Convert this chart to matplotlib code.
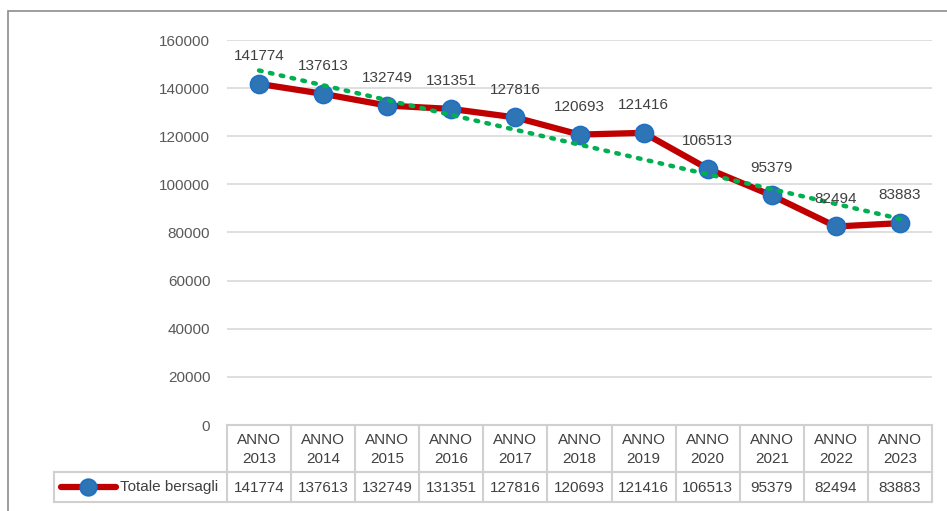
import numpy as np
import matplotlib
matplotlib.use('Agg')
import matplotlib.pyplot as plt
from matplotlib.patches import Rectangle
from matplotlib.lines import Line2D

plt.rcParams['font.family'] = ['Liberation Sans', 'DejaVu Sans']

# Data
years = ['2013', '2014', '2015', '2016', '2017', '2018', '2019', '2020', '2021', '2022', '2023']
totals = [141774, 137613, 132749, 131351, 127816, 120693, 121416, 106513, 95379, 82494, 83883]
series_name = 'Totale bersagli'

W, H = 947, 511
fig = plt.figure(figsize=(W / 100, H / 100), dpi=100)

# chart area border (runs off the right and bottom edges)
fig.patches.append(Rectangle((8 / W, -0.1), 1.1, 1 - 11 / H + 0.1, transform=fig.transFigure,
                             fill=False, edgecolor='#8c8c8c', linewidth=1.2))

left, right, top, bottom = 227, 932, 40, 425
ax = fig.add_axes([left / W, 1 - bottom / H, (right - left) / W, (bottom - top) / H])

x = np.arange(len(years))
ax.set_xlim(-0.5, len(years) - 0.5)
ax.set_ylim(0, 160000)
ax.set_yticks(np.arange(0, 160001, 20000))
ax.yaxis.grid(True, color='#d9d9d9', linewidth=1.2)
ax.set_axisbelow(True)
for s in ax.spines.values():
    s.set_visible(False)
ax.tick_params(axis='y', length=0, pad=12, labelsize=11, labelcolor='#595959')
ax.set_xticks([])

# main series
ax.plot(x, totals, color='#c00000', linewidth=4.5, solid_joinstyle='round', zorder=3,
        marker='o', markersize=13, markerfacecolor='#2e75b6', markeredgecolor='#1f6fc5',
        markeredgewidth=1.2)

# linear trendline
coef = np.polyfit(x, totals, 1)
ax.plot(x, np.polyval(coef, x), linestyle=(0, (0.6, 1.9)), color='#00b050',
        linewidth=3.2, dash_capstyle='round', zorder=4)

# data labels
for xi, v in zip(x, totals):
    ax.annotate(str(v), (xi, v), xytext=(0, 15), textcoords='offset points',
                ha='center', va='bottom', fontsize=11, color='#404040', zorder=5)

# data table below the plot
tr = ax.get_xaxis_transform()
ph = bottom - top
def yf(py):
    return (bottom - py) / ph

grid_c = '#d0d0d0'
row1, row2, row3 = 425, 472, 502
tbl_left_px = 54
xl = -0.5 - (left - tbl_left_px) / 64.1

def hline(x0, x1, py):
    ax.add_line(Line2D([x0, x1], [yf(py), yf(py)], transform=tr, color=grid_c,
                       linewidth=1.5, clip_on=False))

def vline(xv, py0, py1):
    ax.add_line(Line2D([xv, xv], [yf(py0), yf(py1)], transform=tr, color=grid_c,
                       linewidth=1.5, clip_on=False))

hline(-0.5, len(years) - 0.5, row1)
hline(xl, len(years) - 0.5, row2)
hline(xl, len(years) - 0.5, row3)
vline(xl, row2, row3)
for i in range(len(years) + 1):
    vline(i - 0.5, row1, row3)

for xi, yr, v in zip(x, years, totals):
    ax.text(xi, yf((row1 + row2) / 2 + 1), 'ANNO\n' + yr, transform=tr, ha='center',
            va='center', fontsize=11, color='#404040', linespacing=1.4)
    ax.text(xi, yf((row2 + row3) / 2 + 1), str(v), transform=tr, ha='center',
            va='center', fontsize=11, color='#404040')

# legend key in the table
key_y = yf((row2 + row3) / 2)
x_px = lambda px: -0.5 - (left - px) / 64.1
ax.add_line(Line2D([x_px(61), x_px(116)], [key_y, key_y], transform=tr, color='#c00000',
                   linewidth=4.5, solid_capstyle='round', clip_on=False))
ax.add_line(Line2D([x_px(88)], [key_y], transform=tr, marker='o', markersize=12,
                   markerfacecolor='#2e75b6', markeredgecolor='#1f6fc5',
                   markeredgewidth=1.2, clip_on=False))
ax.text(x_px(120), key_y, series_name, transform=tr, ha='left', va='center',
        fontsize=11, color='#404040')

fig.savefig('out.png', dpi=100)
